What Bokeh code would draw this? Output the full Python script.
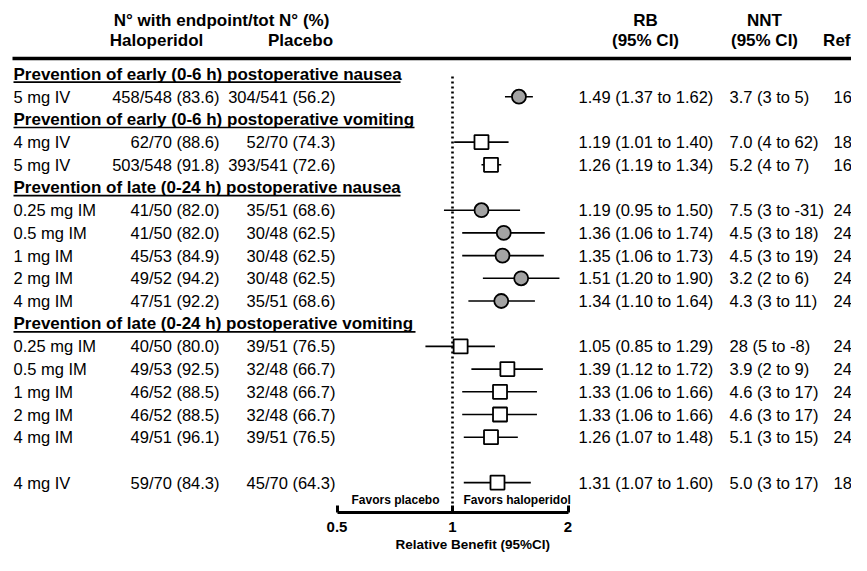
from bokeh.plotting import figure
from bokeh.models import Range1d, FixedTicker, Title, ColumnDataSource
from bokeh.core.properties import value
from bokeh.embed import file_html
from bokeh.resources import INLINE

# ---------------- data ----------------
sections = [
    "Prevention of early (0-6 h) postoperative nausea",
    "Prevention of early (0-6 h) postoperative vomiting",
    "Prevention of late (0-24 h) postoperative nausea",
    "Prevention of late (0-24 h) postoperative vomiting",
]
section_rows = [0, 2, 5, 11]

doses = ["5 mg IV", "4 mg IV", "5 mg IV", "0.25 mg IM", "0.5 mg IM", "1 mg IM",
         "2 mg IM", "4 mg IM", "0.25 mg IM", "0.5 mg IM", "1 mg IM", "2 mg IM",
         "4 mg IM", "4 mg  IV"]
rows = [1, 3, 4, 6, 7, 8, 9, 10, 12, 13, 14, 15, 16, 18]
haloperidol = ["458/548 (83.6)", "62/70 (88.6)", "503/548 (91.8)", "41/50 (82.0)",
               "41/50 (82.0)", "45/53 (84.9)", "49/52 (94.2)", "47/51 (92.2)",
               "40/50 (80.0)", "49/53 (92.5)", "46/52 (88.5)", "46/52 (88.5)",
               "49/51 (96.1)", "59/70 (84.3)"]
placebo = ["304/541 (56.2)", "52/70 (74.3)", "393/541 (72.6)", "35/51 (68.6)",
           "30/48 (62.5)", "30/48 (62.5)", "30/48 (62.5)", "35/51 (68.6)",
           "39/51 (76.5)", "32/48 (66.7)", "32/48 (66.7)", "32/48 (66.7)",
           "39/51 (76.5)", "45/70 (64.3)"]
rb = [1.49, 1.19, 1.26, 1.19, 1.36, 1.35, 1.51, 1.34, 1.05, 1.39, 1.33, 1.33, 1.26, 1.31]
rb_lo = [1.37, 1.01, 1.19, 0.95, 1.06, 1.06, 1.20, 1.10, 0.85, 1.12, 1.06, 1.06, 1.07, 1.07]
rb_hi = [1.62, 1.40, 1.34, 1.50, 1.74, 1.73, 1.90, 1.64, 1.29, 1.72, 1.66, 1.66, 1.48, 1.60]
nnt = ["3.7 (3 to 5)", "7.0 (4 to 62)", "5.2 (4 to 7)", "7.5 (3 to -31)", "4.5 (3 to 18)",
       "4.5 (3 to 19)", "3.2 (2 to 6)", "4.3 (3 to 11)", "28 (5 to -8)", "3.9 (2 to 9)",
       "4.6 (3 to 17)", "4.6 (3 to 17)", "5.1 (3 to 15)", "5.0 (3 to 17)"]
refs = ["16", "18", "16", "24", "24", "24", "24", "24", "24", "24", "24", "24", "24", "18"]
outcome = ["nausea", "vomiting", "vomiting", "nausea", "nausea", "nausea", "nausea",
           "nausea", "vomiting", "vomiting", "vomiting", "vomiting", "vomiting", "vomiting"]
tick_values = [0.5, 1, 2]
tick_labels = ["0.5", "1", "2"]

# ---------------- layout helpers ----------------
W, H = 851, 555
X1, PPO = 452.0, 115.5          # pixel of RB=1 and pixels per doubling
FRAME_H = 512
ROW0, ROWH = 73.5, 22.7


def xd(px):
    return 2 ** ((px - X1) / PPO)


def yd(py):
    return (py - ROW0) / ROWH


FONT = value("Liberation Sans")
BODY = "16.5px"
BOLD = "17px"

p = figure(width=W, height=H, x_axis_type="log",
           x_range=Range1d(xd(0), xd(W)), y_range=Range1d(yd(FRAME_H), yd(0)),
           y_axis_location=None, toolbar_location=None, output_backend="svg",
           title=None, min_border_left=0, min_border_right=0, min_border_top=0,
           min_border_bottom=H - FRAME_H)
p.grid.visible = False
p.outline_line_color = None
p.background_fill_color = "white"
p.border_fill_color = "white"

# header
hdr = dict(text_font=FONT, text_font_style="bold", text_font_size=BOLD,
           text_baseline="middle", text_color="black")
p.text(x=[xd(221)], y=[yd(20)], text=["N° with endpoint/tot N° (%)"], text_align="center", **hdr)
p.text(x=[xd(156), xd(300)], y=[yd(40), yd(40)], text=["Haloperidol", "Placebo"],
       text_align="center", **hdr)
p.text(x=[xd(645), xd(764)], y=[yd(20), yd(20)], text=["RB", "NNT"], text_align="center", **hdr)
p.text(x=[xd(645), xd(764)], y=[yd(40), yd(40)], text=["(95% CI)", "(95% CI)"],
       text_align="center", **hdr)
p.text(x=[xd(850)], y=[yd(40)], text=["Ref"], text_align="right", **hdr)
p.line(x=[xd(12), xd(W)], y=[yd(58), yd(58)], line_color="black", line_width=3.5)

# section titles with underline
p.text(x=[xd(13)] * len(sections), y=section_rows, text=sections, text_align="left", **hdr)
ul_end = [400, 414, 400, 415]
p.multi_line(xs=[[xd(13), xd(e)] for e in ul_end],
             ys=[[r + 0.36, r + 0.36] for r in section_rows],
             line_color="black", line_width=1.6)

# table body
body = dict(text_font=FONT, text_font_size=BODY, text_baseline="middle", text_color="black")
n = len(rows)
p.text(x=[xd(13)] * n, y=rows, text=doses, text_align="left", **body)
p.text(x=[xd(219)] * n, y=rows, text=haloperidol, text_align="right", **body)
p.text(x=[xd(335)] * n, y=rows, text=placebo, text_align="right", **body)
p.text(x=[xd(578)] * n, y=rows, text=[f"{a:.2f} ({b:.2f} to {c:.2f})" for a, b, c in zip(rb, rb_lo, rb_hi)],
       text_align="left", **body)
p.text(x=[xd(729)] * n, y=rows, text=nnt, text_align="left", **body)
p.text(x=[xd(833)] * n, y=rows, text=refs, text_align="left", **body)

# reference line at RB = 1
p.line(x=[1, 1], y=[yd(76), yd(FRAME_H)], line_color="black", line_width=2.6, line_dash="2 3")

# forest plot
src = ColumnDataSource(dict(y=rows, rb=rb, lo=rb_lo, hi=rb_hi, outcome=outcome))
p.segment(x0="lo", x1="hi", y0="y", y1="y", source=src, line_color="black", line_width=1.6)
na = [i for i, o in enumerate(outcome) if o == "nausea"]
vo = [i for i, o in enumerate(outcome) if o == "vomiting"]
p.scatter(x=[rb[i] for i in na], y=[rows[i] for i in na], marker="circle", size=14,
          fill_color="#a3a3a3", line_color="black", line_width=1.8)
p.scatter(x=[rb[i] for i in vo], y=[rows[i] for i in vo], marker="square", size=14,
          fill_color="white", line_color="black", line_width=1.8)

# favors labels
fav = dict(text_font=FONT, text_font_style="bold", text_font_size="12px",
           text_baseline="middle", text_color="black")
p.text(x=[xd(439)], y=[yd(499)], text=["Favors placebo"], text_align="right", **fav)
p.text(x=[xd(463)], y=[yd(499)], text=["Favors haloperidol"], text_align="left", **fav)

# x axis
ax = p.xaxis[0]
ax.ticker = FixedTicker(ticks=tick_values)
ax.major_label_overrides = {v: t for v, t in zip(tick_values, tick_labels)}
ax.bounds = (tick_values[0], tick_values[-1])
ax.axis_line_width = 3
ax.axis_line_color = "black"
ax.major_tick_in = 7
ax.major_tick_out = 0
ax.major_tick_line_width = 3
ax.major_tick_line_color = "black"
ax.minor_tick_line_color = None
ax.major_label_text_font = "Liberation Sans"
ax.major_label_text_font_style = "bold"
ax.major_label_text_font_size = "15px"
ax.major_label_text_color = "black"
ax.major_label_standoff = 9

p.add_layout(Title(text="Relative Benefit (95%CI)", align="left", offset=395,
                   text_font="Liberation Sans", text_font_style="bold",
                   text_font_size="13.5px", text_color="black", standoff=0), "below")

open("out.html", "w").write(file_html(p, INLINE))
